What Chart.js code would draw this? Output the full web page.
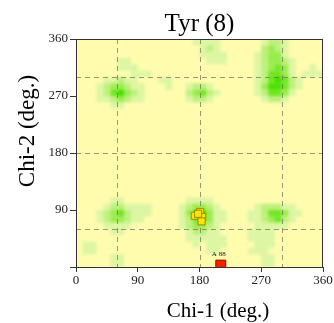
<!DOCTYPE html>
<html>
<head>
<meta charset="utf-8">
<script src="https://cdn.jsdelivr.net/npm/chart.js@4/dist/chart.umd.min.js"></script>
<style>
  html, body { margin: 0; padding: 0; background: #fff; }
  canvas { display: block; }
</style>
</head>
<body>
<canvas id="chi-plot" width="334" height="323"></canvas>
<script>
// Tyr (8) chi-1 / chi-2 plot
const chartTitle = 'Tyr (8)';
const xTitle = 'Chi-1 (deg.)';
const yTitle = 'Chi-2 (deg.)';
const tickStep = 90;
const refLines = [60, 180, 300];
const cellSize = 10;

// density cells, one digit per 10x10 deg cell (0 = empty .. 5 = densest)
// first row is chi2 350-360, last row is chi2 0-10; columns chi1 0..350
const densityRows = [
    '000000000000000001111000000122100000',
    '000000000000000000121000000232100000',
    '000000000000000000111100001233100000',
    '000000110000000000011100001233210000',
    '000000111000000000000000001234310010',
    '000000001110000000000000001244310111',
    '000011211000110000000000001245421000',
    '000123321100010012210000001355421000',
    '000124532100000023421000001244310000',
    '000112321100000012210000000122100000',
    '000001100000000000000000000000000000',
    '000000000000000000000000000000000000',
    '000000000000000000000000000000000000',
    '000000000000000000000000000000000000',
    '000000000000000000000000000000000000',
    '000000000000000000000000000000000000',
    '000000000000000000000000000000000000',
    '000000000000000000000000000000000000',
    '000000000000000000000000000000000000',
    '000000000000000000000000000000000000',
    '000000000000000000000000000000000000',
    '000000000000000000000000000000000000',
    '000000000000000000000000000000000000',
    '000000000000000000000000000000000000',
    '000000000000000000000000000000000000',
    '000001100000000011110000000000000000',
    '000012211110000123321000001222110000',
    '000123421110000134531100011244311000',
    '000123321100000124431100011234210000',
    '000011110000000123321000001111100000',
    '000001100000000012211000011110000000',
    '000000000000000011111100011110000000',
    '011000000000000001011100001110000000',
    '011000000000000000011000011100000000',
    '000001100000000000000000000110000000',
    '000001100000000000000000000110000000'
];
const levelColors = ['#fffcae', '#dcf6a4', '#bdf07c', '#98ec4e', '#70e622', '#46e000'];

// residues in this structure
const yellowChi1 = [173, 181, 184, 183, 178];
const yellowChi2 = [81, 87, 79, 72, 84];
const outlierChi1 = [211];
const outlierChi2 = [3];
const outlierLabels = ['A 88'];

const serif = '"Liberation Serif", "DejaVu Serif", serif';

const heatmapPlugin = {
    id: 'heatmap',
    beforeDraw(chart) {
        const { ctx, chartArea: a, scales: { x, y } } = chart;

        // cells on a scratch canvas, then softened onto the chart
        const off = document.createElement('canvas');
        off.width = chart.width;
        off.height = chart.height;
        const oc = off.getContext('2d');
        oc.fillStyle = levelColors[0];
        oc.fillRect(0, 0, off.width, off.height);
        densityRows.forEach((row, r) => {
            const chi2 = 360 - (r + 1) * cellSize;
            for (let c = 0; c < row.length; c++) {
                const lvl = +row[c];
                if (!lvl) continue;
                const chi1 = c * cellSize;
                const x0 = x.getPixelForValue(chi1);
                const x1 = x.getPixelForValue(chi1 + cellSize);
                const y0 = y.getPixelForValue(chi2 + cellSize);
                const y1 = y.getPixelForValue(chi2);
                oc.fillStyle = levelColors[lvl];
                oc.fillRect(x0, y0, x1 - x0, y1 - y0);
            }
        });

        ctx.save();
        ctx.beginPath();
        ctx.rect(a.left, a.top, a.width, a.height);
        ctx.clip();
        ctx.filter = 'blur(1.4px)';
        ctx.drawImage(off, 0, 0);
        ctx.filter = 'none';

        // dashed reference lines
        ctx.strokeStyle = 'rgba(110, 110, 90, 0.7)';
        ctx.lineWidth = 1;
        ctx.setLineDash([5, 4]);
        refLines.forEach(v => {
            const px = Math.round(x.getPixelForValue(v)) + 0.5;
            const py = Math.round(y.getPixelForValue(v)) + 0.5;
            ctx.beginPath();
            ctx.moveTo(px, a.top);
            ctx.lineTo(px, a.bottom);
            ctx.stroke();
            ctx.beginPath();
            ctx.moveTo(a.left, py);
            ctx.lineTo(a.right, py);
            ctx.stroke();
        });
        ctx.restore();
    },
    afterDraw(chart) {
        const { ctx, chartArea: a, scales: { x, y } } = chart;
        ctx.save();
        ctx.strokeStyle = '#333';
        ctx.lineWidth = 1;
        ctx.strokeRect(a.left + 0.5, a.top + 0.5, a.width - 1, a.height);

        // outlier labels
        ctx.fillStyle = '#111';
        ctx.font = '7px ' + serif;
        ctx.textAlign = 'center';
        ctx.textBaseline = 'middle';
        outlierLabels.forEach((t, i) => {
            ctx.fillText(t, x.getPixelForValue(outlierChi1[i]) - 2, y.getPixelForValue(outlierChi2[i]) - 11);
        });

        // chart and axis titles
        ctx.fillStyle = '#000';
        ctx.textBaseline = 'alphabetic';
        ctx.font = '25px ' + serif;
        ctx.fillText(chartTitle, (a.left + a.right) / 2, 31);
        ctx.font = '21px ' + serif;
        ctx.fillText(xTitle, 218, 317);
        ctx.translate(34, 131);
        ctx.rotate(-Math.PI / 2);
        ctx.font = '23px ' + serif;
        ctx.fillText(yTitle, 0, 0);
        ctx.restore();
    }
};

const axisTicks = {
    color: '#222',
    font: { family: serif, size: 13 }
};

new Chart(document.getElementById('chi-plot'), {
    type: 'scatter',
    data: {
        datasets: [
            {
                label: 'residues',
                data: yellowChi1.map((v, i) => ({ x: v, y: yellowChi2[i] })),
                pointStyle: 'rect',
                pointRadius: 5,
                backgroundColor: '#ffe600',
                borderColor: '#9a8a00',
                borderWidth: 1
            },
            {
                label: 'outliers',
                data: outlierChi1.map((v, i) => ({ x: v, y: outlierChi2[i] })),
                pointStyle: 'rect',
                pointRadius: 7,
                backgroundColor: '#f52200',
                borderColor: '#a00000',
                borderWidth: 1
            }
        ]
    },
    options: {
        responsive: false,
        animation: false,
        layout: { padding: { left: 0, right: 11, top: 39, bottom: 0 } },
        scales: {
            x: {
                type: 'linear',
                min: 0,
                max: 360,
                ticks: { ...axisTicks, stepSize: tickStep, padding: 1, maxRotation: 0 },
                grid: { drawOnChartArea: false, tickLength: 5, color: '#333' },
                border: { color: '#333' },
                afterFit(scale) { scale.height = 56; }
            },
            y: {
                type: 'linear',
                min: 0,
                max: 360,
                ticks: {
                    ...axisTicks,
                    stepSize: tickStep,
                    padding: 2,
                    callback: v => (v === 0 ? '' : v)
                },
                grid: { drawOnChartArea: false, tickLength: 6, color: '#333' },
                border: { color: '#333' },
                afterFit(scale) { scale.width = 76; }
            }
        },
        plugins: {
            legend: { display: false },
            tooltip: { enabled: false },
            title: { display: false }
        }
    },
    plugins: [heatmapPlugin]
});
</script>
</body>
</html>
